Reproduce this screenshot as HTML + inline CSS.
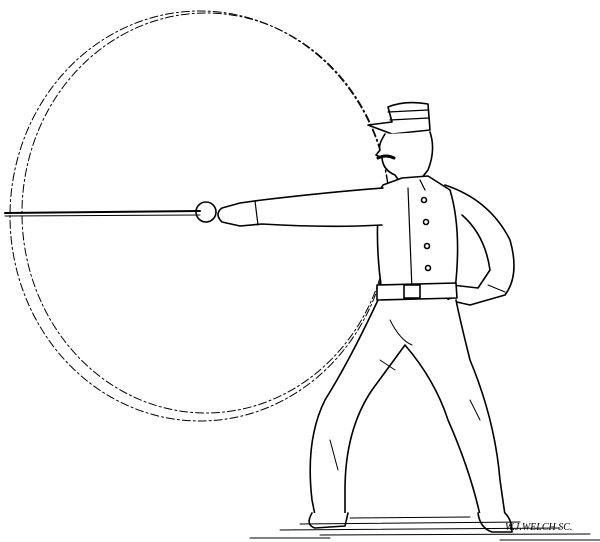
<!DOCTYPE html>
<html><head><meta charset="utf-8"><style>
html,body{margin:0;padding:0;background:#fff;}
svg{display:block;}
</style></head><body>
<svg width="600" height="542" viewBox="0 0 600 542" fill="none" stroke="#000" stroke-linecap="round" stroke-linejoin="round">
<g stroke-width="1" stroke-dasharray="8 3 2 3">
<ellipse cx="200" cy="216" rx="190" ry="205"/>
<ellipse cx="206" cy="213" rx="184" ry="200"/>
</g>
<g>
<path d="M5,213 L200,211" stroke-width="2"/>
<path d="M5,216 L200,215" stroke-width="1"/>
<ellipse cx="206" cy="212" rx="10" ry="10" stroke-width="1.6"/>
</g>
<g stroke-width="1.6">
<path d="M368,125 L392,122 L388,107 Q405,100 428,104 L430,130 L392,134 Z" fill="#fff"/>
<path d="M388,112 L428,110 M390,120 L429,118" stroke-width="1.2"/>
<path d="M385,134 Q378,145 380,150 L376,155 L382,158 Q383,170 395,175 L400,182 L420,180 L428,170 Q436,150 430,132" fill="#fff"/>
<path d="M378,158 Q386,154 394,158" stroke-width="3"/>
<path d="M445,185 Q490,200 510,240 Q520,275 505,295 L470,305 L448,300 L452,285 L478,288 L490,270 Q485,235 462,215" fill="#fff"/>
<path d="M488,285 L505,292" stroke-width="1"/>
<path d="M383,185 L402,178 L428,176 L450,190 Q462,230 455,290 L382,292 Q374,240 380,190 Z" fill="#fff"/>
<path d="M408,188 L412,290 M420,180 L425,190" stroke-width="1.2"/>
<circle cx="424" cy="200" r="2.5"/><circle cx="426" cy="222" r="2.5"/><circle cx="427" cy="246" r="2.5"/><circle cx="428" cy="268" r="2.5"/>
<path d="M383,188 Q330,192 262,200 L240,203 L222,208 Q214,214 222,222 L240,226 L262,224 Q330,228 382,225" fill="#fff"/>
<path d="M255,201 L258,225" stroke-width="1.2"/>
<path d="M378,300 Q350,360 325,400 Q305,440 312,500 L315,515 L345,515 L345,490 Q345,430 372,390 L405,345 Q435,380 448,420 Q470,470 480,515 L505,515 L500,480 Q495,420 470,360 Q460,320 456,300" fill="#fff"/>
<path d="M377,285 L456,283 L457,298 L377,300 Z" fill="#fff"/>
<rect x="404" y="285" width="16" height="13"/>
<path d="M312,513 Q305,525 315,528 L345,526 L348,513" fill="#fff"/>
<path d="M478,513 Q480,528 492,532 L512,532 Q512,520 505,513" fill="#fff"/>
<path d="M390,320 Q400,340 412,345 M380,360 L395,370 M470,400 L480,420 M330,440 L338,470" stroke-width="1"/>
</g>
<g stroke-width="1">
<path d="M280,530 L560,528 M300,524 L520,522 M320,535 L590,534 M350,518 L470,517 M500,540 L600,540 M250,538 L330,538"/>
</g>
<text x="505" y="530" font-family="Liberation Serif, serif" font-size="10" font-style="italic" fill="#000" stroke="none">W.J.WELCH SC.</text>
</svg>
</body></html>
